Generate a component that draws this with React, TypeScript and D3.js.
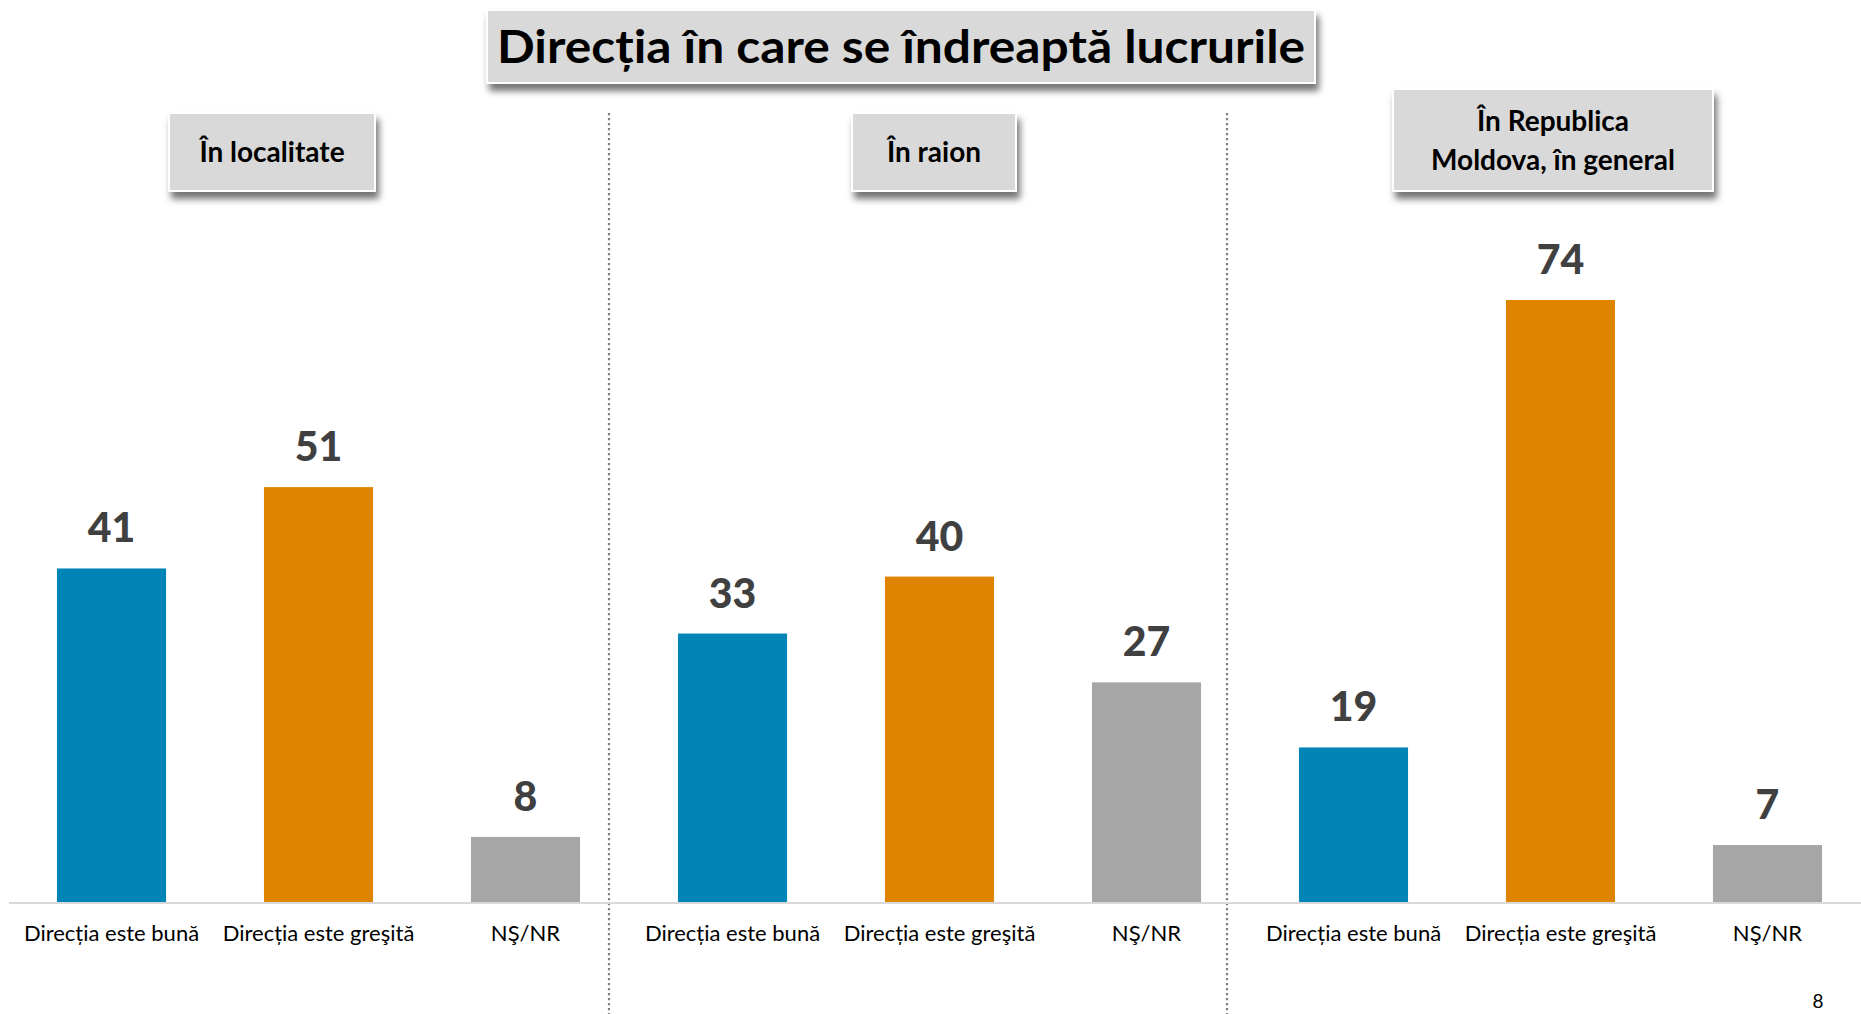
import React from "react";
import * as d3 from "d3";

const panelTitles = [["În localitate"], ["În raion"], ["În Republica", "Moldova, în general"]];
const categories = ["Direcția este bună", "Direcția este greşită", "NŞ/NR"];
const valuesLocalitate = [41, 51, 8];
const valuesRaion = [33, 40, 27];
const valuesRepublica = [19, 74, 7];
const seriesColors = ["#0085b6", "#df8400", "#a6a6a6"];
const chartTitle = "Direcția în care se îndreaptă lucrurile";

const W = 1861;
const H = 1014;
const baseY = 902;

// header box layout (center x, top y, width, height)
const headerLayout = [
  { cx: 272, y: 113, w: 206, h: 78 },
  { cx: 934, y: 113, w: 164, h: 78 },
  { cx: 1553, y: 89, w: 320, h: 102 },
];

export default function App() {
  const allValues = [valuesLocalitate, valuesRaion, valuesRepublica];
  const rows = allValues.flatMap((vals, p) =>
    vals.map((v, i) => ({ key: `${p}-${i}`, panel: p, cat: categories[i], ci: i, value: v }))
  );
  const x = d3
    .scaleBand<string>()
    .domain(rows.map((r) => r.key))
    .range([8, 1871])
    .paddingInner(0.473)
    .paddingOuter(0.2365);
  const y = d3.scaleLinear().domain([0, 74]).range([baseY, 300]);
  const bw = x.bandwidth();

  const dividers = [1, 2].map((p) => {
    const lastKey = `${p - 1}-2`;
    const firstKey = `${p}-0`;
    return ((x(lastKey) as number) + bw + (x(firstKey) as number)) / 2 - 17 - 3 * p;
  });

  const font = "Lato, 'Open Sans', sans-serif";

  return (
    <div style={{ position: "fixed", left: 0, top: 0, width: W, height: H, background: "#fff" }}>
      <svg width={W} height={H} style={{ display: "block" }}>
        <defs>
          <filter id="shadow" x="-10%" y="-20%" width="125%" height="160%">
            <feDropShadow dx="3" dy="7" stdDeviation="3.5" floodColor="#000" floodOpacity="0.55" />
          </filter>
        </defs>

        {/* title */}
        <g>
          <rect x={487} y={10} width={828} height={73} fill="#d9d9d9" stroke="#ffffff" strokeWidth={2} filter="url(#shadow)" />
          <text x={901} y={63} textAnchor="middle" fontFamily={font} fontWeight={700} fontSize={46} fill="#000" textLength={808} lengthAdjust="spacingAndGlyphs">
            {chartTitle}
          </text>
        </g>

        {/* dividers */}
        {dividers.map((dx, i) => (
          <line key={i} x1={dx} x2={dx} y1={113} y2={H} stroke="#7f7f7f" strokeWidth={2.2} strokeDasharray="2.2,2.8" />
        ))}

        {/* panel headers */}
        {panelTitles.map((lines, p) => {
          const L = headerLayout[p];
          const lineH = 39;
          const cy = L.y + L.h / 2;
          const startY = cy - ((lines.length - 1) * lineH) / 2 + 10;
          return (
            <g key={p}>
              <rect x={L.cx - L.w / 2} y={L.y} width={L.w} height={L.h} fill="#d9d9d9" stroke="#ffffff" strokeWidth={2} filter="url(#shadow)" />
              {lines.map((t, li) => (
                <text key={li} x={L.cx} y={startY + li * lineH} textAnchor="middle" fontFamily={font} fontWeight={700} fontSize={28} fill="#000">
                  {t}
                </text>
              ))}
            </g>
          );
        })}

        {/* axis line */}
        <line x1={9} x2={W} y1={baseY + 1} y2={baseY + 1} stroke="#d9d9d9" strokeWidth={2} />

        {/* bars */}
        {rows.map((r) => (
          <rect key={r.key} x={x(r.key)} y={y(r.value)} width={bw} height={baseY - y(r.value)} fill={seriesColors[r.ci]} />
        ))}

        {/* value labels */}
        {rows.map((r) => (
          <text key={"v" + r.key} x={(x(r.key) as number) + bw / 2} y={y(r.value) - 26} textAnchor="middle" fontFamily={font} fontWeight={900} fontSize={41} fill="#404040">
            {r.value}
          </text>
        ))}

        {/* category labels */}
        {rows.map((r) => (
          <text key={"c" + r.key} x={(x(r.key) as number) + bw / 2} y={941} textAnchor="middle" fontFamily={font} fontSize={22} fill="#000">
            {r.cat}
          </text>
        ))}

        {/* page number */}
        <text x={1818} y={1008} textAnchor="middle" fontFamily={font} fontSize={19} fill="#000">8</text>
      </svg>
    </div>
  );
}
